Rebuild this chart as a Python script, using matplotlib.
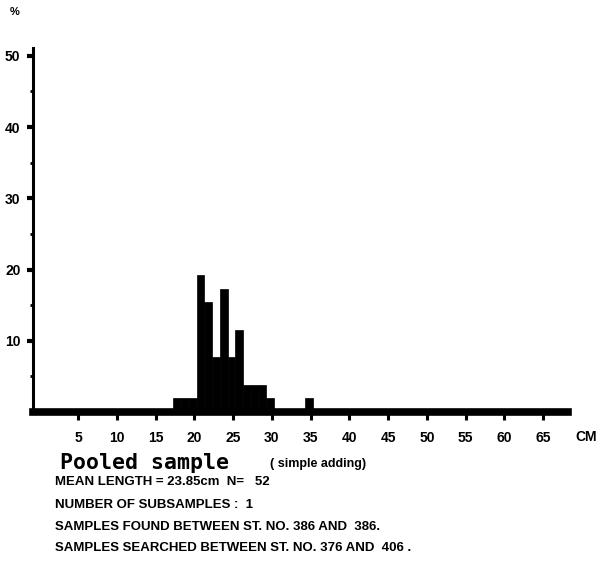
import matplotlib
matplotlib.use("Agg")
import matplotlib.pyplot as plt
import numpy as np

# ---- data ----
lengths_cm = [18, 19, 20, 21, 22, 23, 24, 25, 26, 27, 28, 29, 30, 35]
counts = [1, 1, 1, 10, 8, 4, 9, 4, 6, 2, 2, 2, 1, 1]
n_total = 52
x_tick_values = [5, 10, 15, 20, 25, 30, 35, 40, 45, 50, 55, 60, 65]
y_tick_values = [10, 20, 30, 40, 50]
title_main = "Pooled sample"
title_sub = "( simple adding)"
info_lines = [
    "MEAN LENGTH = 23.85cm  N=   52",
    "NUMBER OF SUBSAMPLES :  1",
    "SAMPLES FOUND BETWEEN ST. NO. 386 AND  386.",
    "SAMPLES SEARCHED BETWEEN ST. NO. 376 AND  406 .",
]

percent = np.array(counts) / n_total * 100.0

W, H = 599, 562
fig = plt.figure(figsize=(W / 100, H / 100), dpi=100)
fig.patch.set_facecolor("white")

NARROW = ["Liberation Sans", "DejaVu Sans"]

def px(x, y):
    return x / W, 1 - y / H

left, right = 33, 568
y0, ytop = 412, 48
ax = fig.add_axes([left / W, (H - y0) / H, (right - left) / W, (y0 - ytop) / H])
ax.set_xlim(-0.8, 68.2)
ax.set_ylim(0, 51.1)

ax.bar(np.array(lengths_cm) - 0.7, percent, width=1.0, align="edge",
       color="black", edgecolor="black", linewidth=0.5, zorder=2)

for s in ["top", "right"]:
    ax.spines[s].set_visible(False)
ax.spines["bottom"].set_linewidth(5.5)
ax.spines["left"].set_linewidth(2.2)
ax.spines["bottom"].set_zorder(3)

ax.set_xticks(x_tick_values)
ax.set_xticklabels([str(v) for v in x_tick_values], fontsize=10,
                   fontweight="bold", family=NARROW)
ax.set_xticks([10, 20, 30, 40, 50, 60], minor=True)
ax.tick_params(axis="x", which="major", direction="out", length=6, width=2.2, pad=8)
ax.tick_params(axis="x", which="minor", direction="out", length=11, width=2.2)

ax.set_yticks(y_tick_values)
ax.set_yticklabels([str(v) for v in y_tick_values], fontsize=10,
                   fontweight="bold", family=NARROW)
ax.set_yticks([5, 15, 25, 35, 45], minor=True)
ax.tick_params(axis="y", which="major", direction="out", length=4, width=3, pad=5)
ax.tick_params(axis="y", which="minor", direction="out", length=2, width=2)

ax.set_facecolor("white")

fig.text(*px(15, 12), "%", fontsize=8, fontweight="bold", family=NARROW,
         ha="center", va="center")
fig.text(*px(586, 437), "CM", fontsize=10, fontweight="bold", family=NARROW,
         ha="center", va="center")

fig.text(*px(60, 463), title_main, fontsize=15.5, fontweight="bold",
         family="DejaVu Sans Mono", ha="left", va="center")
fig.text(*px(270, 464), title_sub, fontsize=9, fontweight="bold",
         family=NARROW, ha="left", va="center")

ys = [482, 505, 527, 548]
for yy, line in zip(ys, info_lines):
    fig.text(*px(55, yy), line, fontsize=9.5, fontweight="bold",
             family=NARROW, ha="left", va="center")

fig.savefig("out.png", dpi=100, facecolor="white")
